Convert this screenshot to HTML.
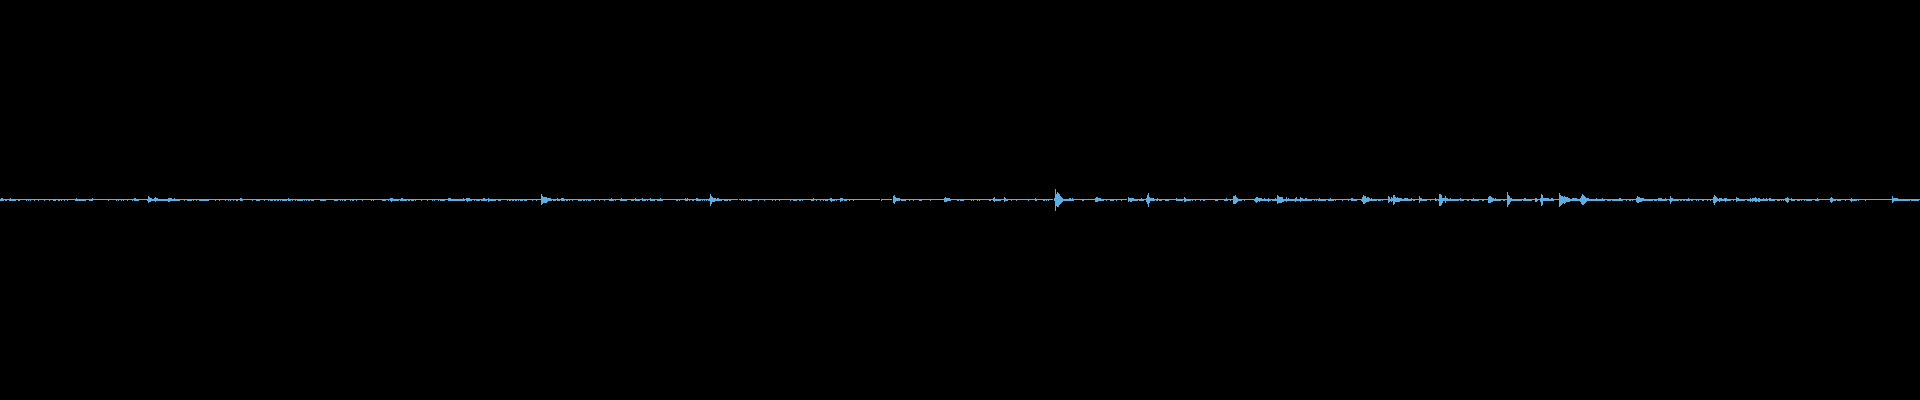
<!DOCTYPE html>
<html><head><meta charset="utf-8"><style>
html,body{margin:0;padding:0;background:#000;width:1920px;height:400px;overflow:hidden}
svg{display:block}
</style></head><body>
<svg width="1920" height="400" viewBox="0 0 1920 400" shape-rendering="crispEdges"><rect width="1920" height="400" fill="#000"/><g fill="#5eaee4"><rect x="0" y="199" width="1" height="2"/><rect x="1" y="198" width="2" height="3"/><rect x="3" y="199" width="1" height="2"/><rect x="4" y="199" width="1" height="1"/><rect x="5" y="199" width="2" height="2"/><rect x="7" y="199" width="2" height="1"/><rect x="9" y="199" width="1" height="2"/><rect x="10" y="198" width="1" height="3"/><rect x="11" y="199" width="5" height="2"/><rect x="16" y="199" width="2" height="1"/><rect x="18" y="199" width="2" height="2"/><rect x="20" y="199" width="6" height="1"/><rect x="26" y="199" width="1" height="2"/><rect x="27" y="199" width="1" height="1"/><rect x="28" y="199" width="1" height="2"/><rect x="29" y="199" width="1" height="1"/><rect x="30" y="199" width="1" height="2"/><rect x="31" y="199" width="3" height="1"/><rect x="34" y="199" width="1" height="2"/><rect x="35" y="199" width="3" height="1"/><rect x="38" y="199" width="1" height="2"/><rect x="39" y="199" width="5" height="1"/><rect x="44" y="199" width="1" height="2"/><rect x="45" y="199" width="4" height="1"/><rect x="49" y="199" width="1" height="2"/><rect x="50" y="199" width="3" height="1"/><rect x="53" y="199" width="3" height="2"/><rect x="56" y="199" width="2" height="1"/><rect x="58" y="199" width="2" height="2"/><rect x="60" y="199" width="1" height="1"/><rect x="61" y="199" width="1" height="2"/><rect x="62" y="199" width="2" height="1"/><rect x="64" y="199" width="1" height="2"/><rect x="65" y="199" width="2" height="1"/><rect x="67" y="199" width="1" height="2"/><rect x="68" y="199" width="7" height="1"/><rect x="75" y="199" width="1" height="2"/><rect x="76" y="198" width="1" height="3"/><rect x="77" y="199" width="9" height="2"/><rect x="86" y="199" width="3" height="1"/><rect x="89" y="199" width="3" height="2"/><rect x="92" y="198" width="1" height="3"/><rect x="93" y="199" width="15" height="1"/><rect x="108" y="199" width="1" height="2"/><rect x="109" y="199" width="7" height="1"/><rect x="116" y="199" width="1" height="2"/><rect x="117" y="199" width="1" height="1"/><rect x="118" y="199" width="1" height="2"/><rect x="119" y="199" width="2" height="1"/><rect x="121" y="199" width="1" height="2"/><rect x="122" y="199" width="1" height="1"/><rect x="123" y="199" width="1" height="2"/><rect x="124" y="199" width="3" height="1"/><rect x="127" y="199" width="1" height="2"/><rect x="128" y="199" width="4" height="1"/><rect x="132" y="199" width="1" height="2"/><rect x="133" y="199" width="1" height="1"/><rect x="134" y="198" width="2" height="3"/><rect x="136" y="199" width="3" height="2"/><rect x="139" y="199" width="8" height="1"/><rect x="147" y="199" width="1" height="2"/><rect x="148" y="196" width="1" height="7"/><rect x="149" y="197" width="1" height="5"/><rect x="150" y="198" width="1" height="4"/><rect x="151" y="198" width="1" height="3"/><rect x="152" y="199" width="2" height="2"/><rect x="154" y="198" width="1" height="3"/><rect x="155" y="197" width="1" height="5"/><rect x="156" y="198" width="2" height="3"/><rect x="158" y="199" width="10" height="2"/><rect x="168" y="198" width="2" height="4"/><rect x="170" y="198" width="2" height="3"/><rect x="172" y="199" width="2" height="2"/><rect x="174" y="198" width="1" height="3"/><rect x="175" y="199" width="5" height="2"/><rect x="180" y="199" width="4" height="1"/><rect x="184" y="199" width="1" height="2"/><rect x="185" y="199" width="2" height="1"/><rect x="187" y="199" width="5" height="2"/><rect x="192" y="199" width="1" height="1"/><rect x="193" y="199" width="1" height="2"/><rect x="194" y="199" width="2" height="1"/><rect x="196" y="199" width="1" height="2"/><rect x="197" y="199" width="2" height="1"/><rect x="199" y="199" width="10" height="2"/><rect x="209" y="199" width="6" height="1"/><rect x="215" y="199" width="1" height="2"/><rect x="216" y="199" width="3" height="1"/><rect x="219" y="199" width="1" height="2"/><rect x="220" y="199" width="5" height="1"/><rect x="225" y="199" width="1" height="2"/><rect x="226" y="199" width="2" height="1"/><rect x="228" y="199" width="1" height="2"/><rect x="229" y="199" width="1" height="1"/><rect x="230" y="199" width="1" height="2"/><rect x="231" y="199" width="2" height="1"/><rect x="233" y="199" width="1" height="2"/><rect x="234" y="199" width="2" height="1"/><rect x="236" y="199" width="2" height="2"/><rect x="238" y="199" width="2" height="1"/><rect x="240" y="198" width="2" height="3"/><rect x="242" y="199" width="1" height="2"/><rect x="243" y="199" width="9" height="1"/><rect x="252" y="199" width="1" height="2"/><rect x="253" y="199" width="3" height="1"/><rect x="256" y="199" width="4" height="2"/><rect x="260" y="199" width="4" height="1"/><rect x="264" y="199" width="1" height="2"/><rect x="265" y="199" width="3" height="1"/><rect x="268" y="199" width="1" height="2"/><rect x="269" y="199" width="1" height="1"/><rect x="270" y="199" width="3" height="2"/><rect x="273" y="199" width="1" height="1"/><rect x="274" y="199" width="2" height="2"/><rect x="276" y="199" width="1" height="1"/><rect x="277" y="199" width="2" height="2"/><rect x="279" y="199" width="1" height="1"/><rect x="280" y="199" width="1" height="2"/><rect x="281" y="199" width="1" height="1"/><rect x="282" y="199" width="5" height="2"/><rect x="287" y="199" width="1" height="1"/><rect x="288" y="198" width="1" height="3"/><rect x="289" y="199" width="2" height="2"/><rect x="291" y="199" width="1" height="1"/><rect x="292" y="199" width="1" height="2"/><rect x="293" y="199" width="2" height="1"/><rect x="295" y="199" width="1" height="2"/><rect x="296" y="199" width="1" height="1"/><rect x="297" y="199" width="6" height="2"/><rect x="303" y="199" width="1" height="1"/><rect x="304" y="199" width="1" height="2"/><rect x="305" y="199" width="1" height="1"/><rect x="306" y="199" width="1" height="2"/><rect x="307" y="199" width="1" height="1"/><rect x="308" y="199" width="2" height="2"/><rect x="310" y="199" width="1" height="1"/><rect x="311" y="199" width="3" height="2"/><rect x="314" y="199" width="6" height="1"/><rect x="320" y="199" width="6" height="2"/><rect x="326" y="199" width="8" height="1"/><rect x="334" y="199" width="4" height="2"/><rect x="338" y="199" width="2" height="1"/><rect x="340" y="199" width="1" height="2"/><rect x="341" y="199" width="1" height="1"/><rect x="342" y="199" width="1" height="2"/><rect x="343" y="199" width="1" height="1"/><rect x="344" y="199" width="2" height="2"/><rect x="346" y="199" width="4" height="1"/><rect x="350" y="199" width="1" height="2"/><rect x="351" y="199" width="1" height="1"/><rect x="352" y="199" width="2" height="2"/><rect x="354" y="199" width="2" height="1"/><rect x="356" y="199" width="1" height="2"/><rect x="357" y="199" width="5" height="1"/><rect x="362" y="199" width="1" height="2"/><rect x="363" y="199" width="8" height="1"/><rect x="371" y="199" width="1" height="2"/><rect x="372" y="199" width="1" height="1"/><rect x="373" y="199" width="1" height="2"/><rect x="374" y="199" width="8" height="1"/><rect x="382" y="199" width="4" height="2"/><rect x="386" y="199" width="2" height="1"/><rect x="388" y="199" width="1" height="2"/><rect x="389" y="199" width="1" height="1"/><rect x="390" y="198" width="1" height="3"/><rect x="391" y="198" width="1" height="4"/><rect x="392" y="198" width="1" height="3"/><rect x="393" y="199" width="6" height="2"/><rect x="399" y="199" width="1" height="1"/><rect x="400" y="199" width="1" height="2"/><rect x="401" y="198" width="2" height="3"/><rect x="403" y="199" width="4" height="2"/><rect x="407" y="199" width="1" height="1"/><rect x="408" y="199" width="2" height="2"/><rect x="410" y="199" width="1" height="1"/><rect x="411" y="199" width="3" height="2"/><rect x="414" y="199" width="1" height="1"/><rect x="415" y="199" width="1" height="2"/><rect x="416" y="199" width="5" height="1"/><rect x="421" y="199" width="1" height="2"/><rect x="422" y="199" width="5" height="1"/><rect x="427" y="199" width="1" height="2"/><rect x="428" y="199" width="4" height="1"/><rect x="432" y="199" width="1" height="2"/><rect x="433" y="199" width="1" height="1"/><rect x="434" y="199" width="1" height="2"/><rect x="435" y="199" width="3" height="1"/><rect x="438" y="199" width="1" height="2"/><rect x="439" y="199" width="1" height="1"/><rect x="440" y="199" width="5" height="2"/><rect x="445" y="199" width="3" height="1"/><rect x="448" y="198" width="3" height="3"/><rect x="451" y="199" width="12" height="2"/><rect x="463" y="198" width="1" height="3"/><rect x="464" y="199" width="1" height="2"/><rect x="465" y="199" width="1" height="1"/><rect x="466" y="198" width="1" height="3"/><rect x="467" y="198" width="1" height="4"/><rect x="468" y="198" width="2" height="3"/><rect x="470" y="199" width="2" height="2"/><rect x="472" y="199" width="2" height="1"/><rect x="474" y="199" width="1" height="2"/><rect x="475" y="199" width="1" height="1"/><rect x="476" y="199" width="4" height="2"/><rect x="480" y="199" width="1" height="1"/><rect x="481" y="199" width="2" height="2"/><rect x="483" y="198" width="2" height="3"/><rect x="485" y="199" width="2" height="2"/><rect x="487" y="199" width="1" height="1"/><rect x="488" y="198" width="1" height="4"/><rect x="489" y="199" width="7" height="2"/><rect x="496" y="199" width="2" height="1"/><rect x="498" y="199" width="3" height="2"/><rect x="501" y="199" width="6" height="1"/><rect x="507" y="199" width="1" height="2"/><rect x="508" y="199" width="1" height="1"/><rect x="509" y="199" width="2" height="2"/><rect x="511" y="199" width="1" height="1"/><rect x="512" y="199" width="2" height="2"/><rect x="514" y="199" width="1" height="1"/><rect x="515" y="199" width="2" height="2"/><rect x="517" y="199" width="1" height="1"/><rect x="518" y="199" width="1" height="2"/><rect x="519" y="199" width="1" height="1"/><rect x="520" y="199" width="3" height="2"/><rect x="523" y="199" width="1" height="1"/><rect x="524" y="199" width="3" height="2"/><rect x="527" y="199" width="5" height="1"/><rect x="532" y="199" width="1" height="2"/><rect x="533" y="199" width="3" height="1"/><rect x="536" y="199" width="1" height="2"/><rect x="537" y="199" width="4" height="1"/><rect x="541" y="194" width="1" height="11"/><rect x="542" y="196" width="1" height="8"/><rect x="543" y="197" width="4" height="6"/><rect x="547" y="198" width="1" height="4"/><rect x="548" y="198" width="3" height="3"/><rect x="551" y="199" width="1" height="2"/><rect x="552" y="199" width="1" height="1"/><rect x="553" y="199" width="3" height="2"/><rect x="556" y="199" width="1" height="1"/><rect x="557" y="198" width="1" height="3"/><rect x="558" y="199" width="2" height="2"/><rect x="560" y="199" width="1" height="1"/><rect x="561" y="198" width="3" height="3"/><rect x="564" y="199" width="1" height="2"/><rect x="565" y="199" width="1" height="1"/><rect x="566" y="199" width="2" height="2"/><rect x="568" y="199" width="1" height="1"/><rect x="569" y="199" width="1" height="2"/><rect x="570" y="199" width="2" height="1"/><rect x="572" y="199" width="1" height="2"/><rect x="573" y="199" width="5" height="1"/><rect x="578" y="199" width="4" height="2"/><rect x="582" y="199" width="1" height="1"/><rect x="583" y="199" width="2" height="2"/><rect x="585" y="199" width="1" height="1"/><rect x="586" y="199" width="1" height="2"/><rect x="587" y="199" width="1" height="1"/><rect x="588" y="199" width="3" height="2"/><rect x="591" y="199" width="3" height="1"/><rect x="594" y="199" width="1" height="2"/><rect x="595" y="199" width="4" height="1"/><rect x="599" y="199" width="1" height="2"/><rect x="600" y="199" width="4" height="1"/><rect x="604" y="199" width="1" height="2"/><rect x="605" y="199" width="4" height="1"/><rect x="609" y="199" width="2" height="2"/><rect x="611" y="198" width="1" height="3"/><rect x="612" y="199" width="2" height="2"/><rect x="614" y="199" width="1" height="1"/><rect x="615" y="199" width="1" height="2"/><rect x="616" y="199" width="4" height="1"/><rect x="620" y="199" width="1" height="2"/><rect x="621" y="198" width="1" height="3"/><rect x="622" y="199" width="5" height="2"/><rect x="627" y="199" width="4" height="1"/><rect x="631" y="199" width="3" height="2"/><rect x="634" y="199" width="1" height="1"/><rect x="635" y="198" width="1" height="3"/><rect x="636" y="199" width="4" height="2"/><rect x="640" y="199" width="2" height="1"/><rect x="642" y="198" width="1" height="3"/><rect x="643" y="199" width="3" height="2"/><rect x="646" y="199" width="1" height="1"/><rect x="647" y="199" width="1" height="2"/><rect x="648" y="199" width="2" height="1"/><rect x="650" y="198" width="1" height="3"/><rect x="651" y="199" width="4" height="2"/><rect x="655" y="199" width="2" height="1"/><rect x="657" y="199" width="3" height="2"/><rect x="660" y="198" width="1" height="3"/><rect x="661" y="199" width="2" height="2"/><rect x="663" y="199" width="13" height="1"/><rect x="676" y="199" width="2" height="2"/><rect x="678" y="199" width="1" height="1"/><rect x="679" y="199" width="1" height="2"/><rect x="680" y="199" width="5" height="1"/><rect x="685" y="198" width="1" height="3"/><rect x="686" y="199" width="1" height="2"/><rect x="687" y="198" width="1" height="3"/><rect x="688" y="199" width="1" height="1"/><rect x="689" y="199" width="1" height="2"/><rect x="690" y="199" width="2" height="1"/><rect x="692" y="199" width="2" height="2"/><rect x="694" y="199" width="2" height="1"/><rect x="696" y="198" width="2" height="3"/><rect x="698" y="199" width="3" height="2"/><rect x="701" y="199" width="1" height="1"/><rect x="702" y="199" width="1" height="2"/><rect x="703" y="199" width="1" height="1"/><rect x="704" y="199" width="1" height="2"/><rect x="705" y="199" width="1" height="1"/><rect x="706" y="199" width="1" height="2"/><rect x="707" y="199" width="1" height="1"/><rect x="708" y="199" width="1" height="2"/><rect x="709" y="198" width="1" height="3"/><rect x="710" y="194" width="1" height="12"/><rect x="711" y="196" width="1" height="8"/><rect x="712" y="197" width="1" height="5"/><rect x="713" y="198" width="2" height="4"/><rect x="715" y="198" width="1" height="3"/><rect x="716" y="199" width="1" height="2"/><rect x="717" y="198" width="2" height="3"/><rect x="719" y="199" width="3" height="2"/><rect x="722" y="199" width="2" height="1"/><rect x="724" y="199" width="4" height="2"/><rect x="728" y="199" width="1" height="1"/><rect x="729" y="199" width="2" height="2"/><rect x="731" y="199" width="7" height="1"/><rect x="739" y="199" width="2" height="1"/><rect x="741" y="199" width="1" height="2"/><rect x="742" y="199" width="1" height="1"/><rect x="743" y="199" width="1" height="2"/><rect x="744" y="199" width="1" height="1"/><rect x="745" y="199" width="1" height="2"/><rect x="746" y="199" width="2" height="1"/><rect x="748" y="199" width="4" height="2"/><rect x="752" y="199" width="6" height="1"/><rect x="758" y="199" width="1" height="2"/><rect x="759" y="199" width="5" height="1"/><rect x="764" y="199" width="1" height="2"/><rect x="765" y="199" width="7" height="1"/><rect x="772" y="199" width="1" height="2"/><rect x="773" y="199" width="2" height="1"/><rect x="775" y="199" width="1" height="2"/><rect x="776" y="199" width="3" height="1"/><rect x="779" y="199" width="1" height="2"/><rect x="780" y="199" width="10" height="1"/><rect x="790" y="199" width="1" height="2"/><rect x="791" y="199" width="2" height="1"/><rect x="793" y="199" width="4" height="2"/><rect x="797" y="199" width="2" height="1"/><rect x="799" y="199" width="2" height="2"/><rect x="801" y="199" width="1" height="1"/><rect x="802" y="199" width="1" height="2"/><rect x="803" y="199" width="8" height="1"/><rect x="811" y="199" width="2" height="2"/><rect x="813" y="198" width="1" height="3"/><rect x="814" y="199" width="2" height="1"/><rect x="816" y="199" width="1" height="2"/><rect x="817" y="199" width="3" height="1"/><rect x="820" y="199" width="1" height="2"/><rect x="821" y="199" width="2" height="1"/><rect x="823" y="199" width="1" height="2"/><rect x="824" y="199" width="1" height="1"/><rect x="825" y="199" width="3" height="2"/><rect x="828" y="199" width="2" height="1"/><rect x="830" y="198" width="1" height="3"/><rect x="831" y="198" width="1" height="4"/><rect x="832" y="199" width="3" height="2"/><rect x="835" y="199" width="1" height="1"/><rect x="836" y="199" width="1" height="2"/><rect x="837" y="199" width="3" height="1"/><rect x="840" y="198" width="1" height="4"/><rect x="841" y="198" width="2" height="3"/><rect x="843" y="199" width="1" height="1"/><rect x="844" y="199" width="3" height="2"/><rect x="847" y="199" width="2" height="1"/><rect x="849" y="199" width="1" height="2"/><rect x="850" y="199" width="3" height="1"/><rect x="853" y="199" width="1" height="2"/><rect x="854" y="199" width="26" height="1"/><rect x="881" y="199" width="1" height="2"/><rect x="882" y="199" width="10" height="1"/><rect x="893" y="196" width="1" height="7"/><rect x="894" y="195" width="1" height="9"/><rect x="895" y="197" width="1" height="5"/><rect x="896" y="198" width="4" height="3"/><rect x="900" y="199" width="1" height="1"/><rect x="901" y="199" width="5" height="2"/><rect x="906" y="199" width="3" height="1"/><rect x="909" y="199" width="1" height="2"/><rect x="910" y="199" width="3" height="1"/><rect x="913" y="199" width="1" height="2"/><rect x="914" y="199" width="5" height="1"/><rect x="919" y="199" width="3" height="2"/><rect x="922" y="199" width="8" height="1"/><rect x="930" y="199" width="1" height="2"/><rect x="931" y="199" width="13" height="1"/><rect x="944" y="198" width="1" height="4"/><rect x="945" y="197" width="1" height="5"/><rect x="946" y="198" width="1" height="4"/><rect x="947" y="198" width="3" height="3"/><rect x="950" y="199" width="1" height="2"/><rect x="951" y="199" width="6" height="1"/><rect x="957" y="199" width="2" height="2"/><rect x="959" y="199" width="1" height="1"/><rect x="960" y="199" width="4" height="2"/><rect x="964" y="199" width="7" height="1"/><rect x="971" y="199" width="1" height="2"/><rect x="972" y="199" width="1" height="1"/><rect x="973" y="199" width="1" height="2"/><rect x="974" y="199" width="3" height="1"/><rect x="977" y="199" width="1" height="2"/><rect x="978" y="199" width="1" height="1"/><rect x="979" y="199" width="1" height="2"/><rect x="980" y="199" width="9" height="1"/><rect x="989" y="199" width="2" height="2"/><rect x="991" y="199" width="2" height="1"/><rect x="993" y="198" width="1" height="3"/><rect x="994" y="197" width="1" height="5"/><rect x="995" y="199" width="6" height="2"/><rect x="1001" y="199" width="3" height="1"/><rect x="1004" y="197" width="1" height="5"/><rect x="1005" y="198" width="1" height="3"/><rect x="1006" y="199" width="2" height="2"/><rect x="1008" y="199" width="3" height="1"/><rect x="1011" y="199" width="1" height="2"/><rect x="1012" y="199" width="4" height="1"/><rect x="1016" y="199" width="1" height="2"/><rect x="1017" y="199" width="11" height="1"/><rect x="1028" y="199" width="1" height="2"/><rect x="1029" y="199" width="6" height="1"/><rect x="1035" y="198" width="1" height="3"/><rect x="1036" y="199" width="1" height="2"/><rect x="1037" y="199" width="6" height="1"/><rect x="1043" y="199" width="2" height="2"/><rect x="1045" y="199" width="1" height="1"/><rect x="1046" y="199" width="1" height="2"/><rect x="1047" y="199" width="1" height="1"/><rect x="1048" y="199" width="1" height="2"/><rect x="1049" y="199" width="4" height="1"/><rect x="1054" y="198" width="1" height="3"/><rect x="1055" y="189" width="1" height="22"/><rect x="1056" y="194" width="1" height="12"/><rect x="1057" y="192" width="1" height="15"/><rect x="1058" y="193" width="1" height="14"/><rect x="1059" y="194" width="1" height="11"/><rect x="1060" y="196" width="1" height="8"/><rect x="1061" y="197" width="1" height="6"/><rect x="1062" y="198" width="1" height="4"/><rect x="1063" y="199" width="6" height="2"/><rect x="1069" y="198" width="2" height="3"/><rect x="1071" y="199" width="1" height="2"/><rect x="1072" y="198" width="1" height="3"/><rect x="1073" y="199" width="1" height="2"/><rect x="1074" y="199" width="8" height="1"/><rect x="1082" y="199" width="2" height="2"/><rect x="1084" y="199" width="11" height="1"/><rect x="1095" y="198" width="1" height="4"/><rect x="1096" y="197" width="2" height="5"/><rect x="1098" y="198" width="3" height="3"/><rect x="1101" y="199" width="3" height="2"/><rect x="1104" y="199" width="2" height="1"/><rect x="1106" y="199" width="1" height="2"/><rect x="1107" y="199" width="3" height="1"/><rect x="1110" y="199" width="4" height="2"/><rect x="1114" y="199" width="2" height="1"/><rect x="1116" y="199" width="1" height="2"/><rect x="1117" y="199" width="4" height="1"/><rect x="1121" y="199" width="1" height="2"/><rect x="1122" y="199" width="5" height="1"/><rect x="1128" y="197" width="1" height="5"/><rect x="1129" y="198" width="1" height="3"/><rect x="1130" y="198" width="2" height="4"/><rect x="1132" y="198" width="2" height="3"/><rect x="1134" y="199" width="4" height="2"/><rect x="1138" y="199" width="1" height="1"/><rect x="1139" y="199" width="2" height="2"/><rect x="1141" y="198" width="1" height="3"/><rect x="1142" y="199" width="2" height="2"/><rect x="1144" y="199" width="2" height="1"/><rect x="1146" y="198" width="1" height="4"/><rect x="1147" y="195" width="1" height="9"/><rect x="1148" y="193" width="1" height="14"/><rect x="1149" y="197" width="1" height="6"/><rect x="1150" y="198" width="4" height="3"/><rect x="1154" y="199" width="1" height="2"/><rect x="1155" y="199" width="1" height="1"/><rect x="1156" y="199" width="1" height="2"/><rect x="1157" y="198" width="1" height="3"/><rect x="1158" y="199" width="1" height="1"/><rect x="1159" y="199" width="3" height="2"/><rect x="1162" y="199" width="3" height="1"/><rect x="1165" y="199" width="4" height="2"/><rect x="1169" y="199" width="7" height="1"/><rect x="1176" y="198" width="1" height="3"/><rect x="1177" y="199" width="6" height="2"/><rect x="1183" y="199" width="1" height="1"/><rect x="1184" y="197" width="1" height="5"/><rect x="1185" y="198" width="1" height="4"/><rect x="1186" y="199" width="5" height="2"/><rect x="1191" y="199" width="1" height="1"/><rect x="1192" y="199" width="1" height="2"/><rect x="1193" y="199" width="2" height="1"/><rect x="1195" y="199" width="1" height="2"/><rect x="1196" y="199" width="4" height="1"/><rect x="1200" y="199" width="1" height="2"/><rect x="1201" y="199" width="2" height="1"/><rect x="1203" y="199" width="2" height="2"/><rect x="1205" y="199" width="10" height="1"/><rect x="1215" y="199" width="3" height="2"/><rect x="1218" y="199" width="6" height="1"/><rect x="1224" y="199" width="2" height="2"/><rect x="1226" y="198" width="1" height="3"/><rect x="1227" y="199" width="1" height="2"/><rect x="1228" y="199" width="2" height="1"/><rect x="1230" y="199" width="1" height="2"/><rect x="1231" y="199" width="2" height="1"/><rect x="1233" y="196" width="2" height="8"/><rect x="1235" y="195" width="1" height="9"/><rect x="1236" y="197" width="1" height="6"/><rect x="1237" y="198" width="1" height="4"/><rect x="1238" y="199" width="4" height="2"/><rect x="1242" y="199" width="2" height="1"/><rect x="1244" y="199" width="1" height="2"/><rect x="1245" y="199" width="9" height="1"/><rect x="1254" y="199" width="1" height="2"/><rect x="1255" y="198" width="1" height="4"/><rect x="1256" y="197" width="1" height="6"/><rect x="1257" y="197" width="1" height="5"/><rect x="1258" y="198" width="1" height="3"/><rect x="1259" y="198" width="1" height="4"/><rect x="1260" y="198" width="2" height="3"/><rect x="1262" y="199" width="2" height="2"/><rect x="1264" y="198" width="1" height="3"/><rect x="1265" y="199" width="3" height="2"/><rect x="1268" y="198" width="1" height="4"/><rect x="1269" y="199" width="2" height="2"/><rect x="1271" y="199" width="1" height="1"/><rect x="1272" y="199" width="3" height="2"/><rect x="1275" y="198" width="1" height="3"/><rect x="1276" y="199" width="1" height="2"/><rect x="1277" y="195" width="1" height="9"/><rect x="1278" y="196" width="1" height="7"/><rect x="1279" y="197" width="3" height="6"/><rect x="1282" y="197" width="1" height="5"/><rect x="1283" y="199" width="1" height="3"/><rect x="1284" y="199" width="2" height="2"/><rect x="1286" y="197" width="1" height="5"/><rect x="1287" y="199" width="1" height="2"/><rect x="1288" y="198" width="1" height="3"/><rect x="1289" y="199" width="6" height="2"/><rect x="1295" y="198" width="1" height="4"/><rect x="1296" y="197" width="1" height="4"/><rect x="1297" y="199" width="3" height="2"/><rect x="1300" y="197" width="1" height="5"/><rect x="1301" y="198" width="2" height="3"/><rect x="1303" y="199" width="2" height="2"/><rect x="1305" y="198" width="2" height="3"/><rect x="1307" y="199" width="5" height="2"/><rect x="1312" y="199" width="2" height="1"/><rect x="1314" y="199" width="1" height="2"/><rect x="1315" y="199" width="1" height="1"/><rect x="1316" y="199" width="1" height="2"/><rect x="1317" y="199" width="1" height="1"/><rect x="1318" y="199" width="1" height="2"/><rect x="1319" y="198" width="1" height="3"/><rect x="1320" y="199" width="6" height="2"/><rect x="1326" y="199" width="2" height="1"/><rect x="1328" y="199" width="2" height="2"/><rect x="1330" y="198" width="1" height="3"/><rect x="1331" y="199" width="3" height="2"/><rect x="1334" y="199" width="1" height="1"/><rect x="1335" y="199" width="1" height="2"/><rect x="1336" y="199" width="6" height="1"/><rect x="1342" y="199" width="1" height="2"/><rect x="1343" y="199" width="5" height="1"/><rect x="1348" y="199" width="1" height="2"/><rect x="1349" y="199" width="2" height="1"/><rect x="1351" y="198" width="2" height="3"/><rect x="1353" y="199" width="4" height="2"/><rect x="1357" y="199" width="4" height="1"/><rect x="1361" y="199" width="1" height="2"/><rect x="1362" y="197" width="1" height="5"/><rect x="1363" y="195" width="1" height="9"/><rect x="1364" y="196" width="1" height="8"/><rect x="1365" y="196" width="1" height="7"/><rect x="1366" y="198" width="1" height="4"/><rect x="1367" y="197" width="2" height="5"/><rect x="1369" y="198" width="1" height="3"/><rect x="1370" y="199" width="1" height="2"/><rect x="1371" y="198" width="1" height="3"/><rect x="1372" y="199" width="5" height="2"/><rect x="1377" y="199" width="1" height="1"/><rect x="1378" y="199" width="3" height="2"/><rect x="1381" y="199" width="1" height="1"/><rect x="1382" y="199" width="1" height="2"/><rect x="1383" y="199" width="5" height="1"/><rect x="1388" y="196" width="1" height="7"/><rect x="1389" y="197" width="1" height="5"/><rect x="1390" y="199" width="1" height="2"/><rect x="1391" y="197" width="1" height="5"/><rect x="1392" y="198" width="1" height="3"/><rect x="1393" y="195" width="1" height="10"/><rect x="1394" y="195" width="1" height="9"/><rect x="1395" y="197" width="1" height="5"/><rect x="1396" y="198" width="1" height="4"/><rect x="1397" y="197" width="1" height="5"/><rect x="1398" y="198" width="2" height="4"/><rect x="1400" y="198" width="2" height="3"/><rect x="1402" y="199" width="2" height="2"/><rect x="1404" y="198" width="4" height="3"/><rect x="1408" y="199" width="3" height="2"/><rect x="1411" y="198" width="1" height="3"/><rect x="1412" y="199" width="1" height="1"/><rect x="1413" y="199" width="2" height="2"/><rect x="1415" y="199" width="4" height="1"/><rect x="1419" y="196" width="1" height="7"/><rect x="1420" y="198" width="2" height="3"/><rect x="1422" y="199" width="5" height="2"/><rect x="1427" y="199" width="3" height="1"/><rect x="1430" y="199" width="1" height="2"/><rect x="1431" y="199" width="4" height="1"/><rect x="1435" y="198" width="1" height="3"/><rect x="1436" y="199" width="1" height="2"/><rect x="1437" y="199" width="1" height="1"/><rect x="1438" y="199" width="1" height="2"/><rect x="1439" y="194" width="2" height="12"/><rect x="1441" y="195" width="1" height="10"/><rect x="1442" y="198" width="1" height="5"/><rect x="1443" y="198" width="2" height="3"/><rect x="1445" y="196" width="1" height="7"/><rect x="1446" y="198" width="2" height="3"/><rect x="1448" y="199" width="2" height="2"/><rect x="1450" y="198" width="1" height="3"/><rect x="1451" y="199" width="8" height="2"/><rect x="1459" y="199" width="1" height="1"/><rect x="1460" y="198" width="1" height="3"/><rect x="1461" y="199" width="3" height="2"/><rect x="1464" y="199" width="3" height="1"/><rect x="1467" y="199" width="2" height="2"/><rect x="1469" y="199" width="2" height="1"/><rect x="1471" y="199" width="2" height="2"/><rect x="1473" y="198" width="1" height="3"/><rect x="1474" y="199" width="5" height="2"/><rect x="1479" y="199" width="3" height="1"/><rect x="1482" y="199" width="2" height="2"/><rect x="1484" y="199" width="4" height="1"/><rect x="1488" y="197" width="1" height="6"/><rect x="1489" y="196" width="2" height="7"/><rect x="1491" y="197" width="1" height="5"/><rect x="1492" y="198" width="1" height="4"/><rect x="1493" y="198" width="1" height="3"/><rect x="1494" y="199" width="1" height="2"/><rect x="1495" y="198" width="1" height="3"/><rect x="1496" y="199" width="5" height="2"/><rect x="1501" y="199" width="2" height="1"/><rect x="1503" y="199" width="2" height="2"/><rect x="1505" y="199" width="2" height="1"/><rect x="1507" y="192" width="1" height="15"/><rect x="1508" y="195" width="1" height="10"/><rect x="1509" y="196" width="1" height="8"/><rect x="1510" y="198" width="1" height="4"/><rect x="1511" y="198" width="1" height="3"/><rect x="1512" y="199" width="10" height="2"/><rect x="1522" y="199" width="1" height="1"/><rect x="1523" y="199" width="1" height="2"/><rect x="1524" y="198" width="2" height="3"/><rect x="1526" y="199" width="6" height="2"/><rect x="1532" y="199" width="3" height="1"/><rect x="1535" y="198" width="2" height="4"/><rect x="1537" y="199" width="1" height="2"/><rect x="1538" y="199" width="2" height="1"/><rect x="1540" y="198" width="1" height="4"/><rect x="1541" y="194" width="1" height="12"/><rect x="1542" y="195" width="1" height="10"/><rect x="1543" y="198" width="6" height="3"/><rect x="1549" y="199" width="2" height="2"/><rect x="1551" y="198" width="2" height="3"/><rect x="1553" y="199" width="1" height="2"/><rect x="1554" y="199" width="5" height="1"/><rect x="1559" y="193" width="1" height="14"/><rect x="1560" y="195" width="1" height="11"/><rect x="1561" y="196" width="1" height="9"/><rect x="1562" y="196" width="1" height="8"/><rect x="1563" y="197" width="1" height="6"/><rect x="1564" y="196" width="1" height="8"/><rect x="1565" y="197" width="1" height="6"/><rect x="1566" y="197" width="2" height="5"/><rect x="1568" y="198" width="2" height="4"/><rect x="1570" y="199" width="2" height="2"/><rect x="1572" y="198" width="5" height="3"/><rect x="1577" y="199" width="3" height="2"/><rect x="1580" y="198" width="1" height="4"/><rect x="1581" y="196" width="1" height="8"/><rect x="1582" y="194" width="1" height="11"/><rect x="1583" y="195" width="1" height="10"/><rect x="1584" y="196" width="1" height="8"/><rect x="1585" y="197" width="1" height="6"/><rect x="1586" y="198" width="1" height="4"/><rect x="1587" y="198" width="2" height="3"/><rect x="1589" y="199" width="7" height="2"/><rect x="1596" y="198" width="1" height="3"/><rect x="1597" y="199" width="5" height="2"/><rect x="1602" y="198" width="1" height="3"/><rect x="1603" y="199" width="2" height="2"/><rect x="1605" y="199" width="2" height="1"/><rect x="1607" y="199" width="4" height="2"/><rect x="1611" y="199" width="1" height="1"/><rect x="1612" y="199" width="7" height="2"/><rect x="1619" y="198" width="2" height="3"/><rect x="1621" y="199" width="2" height="2"/><rect x="1623" y="199" width="3" height="1"/><rect x="1626" y="199" width="1" height="2"/><rect x="1627" y="199" width="2" height="1"/><rect x="1629" y="199" width="2" height="2"/><rect x="1631" y="199" width="1" height="1"/><rect x="1632" y="199" width="1" height="2"/><rect x="1633" y="199" width="3" height="1"/><rect x="1636" y="198" width="1" height="4"/><rect x="1637" y="196" width="1" height="7"/><rect x="1638" y="197" width="1" height="6"/><rect x="1639" y="197" width="1" height="5"/><rect x="1640" y="198" width="2" height="4"/><rect x="1642" y="198" width="2" height="3"/><rect x="1644" y="199" width="9" height="2"/><rect x="1653" y="199" width="1" height="1"/><rect x="1654" y="199" width="3" height="2"/><rect x="1657" y="199" width="1" height="1"/><rect x="1658" y="198" width="4" height="3"/><rect x="1662" y="199" width="3" height="2"/><rect x="1665" y="198" width="1" height="3"/><rect x="1666" y="199" width="1" height="2"/><rect x="1667" y="199" width="2" height="1"/><rect x="1669" y="199" width="1" height="2"/><rect x="1670" y="196" width="1" height="8"/><rect x="1671" y="198" width="1" height="4"/><rect x="1672" y="198" width="1" height="3"/><rect x="1673" y="199" width="6" height="2"/><rect x="1679" y="199" width="1" height="1"/><rect x="1680" y="199" width="2" height="2"/><rect x="1682" y="199" width="1" height="1"/><rect x="1683" y="199" width="2" height="2"/><rect x="1685" y="199" width="1" height="1"/><rect x="1686" y="199" width="2" height="2"/><rect x="1688" y="198" width="1" height="3"/><rect x="1689" y="199" width="1" height="2"/><rect x="1690" y="199" width="1" height="1"/><rect x="1691" y="199" width="2" height="2"/><rect x="1693" y="199" width="3" height="1"/><rect x="1696" y="199" width="1" height="2"/><rect x="1697" y="199" width="1" height="1"/><rect x="1698" y="199" width="1" height="2"/><rect x="1699" y="199" width="3" height="1"/><rect x="1702" y="199" width="2" height="2"/><rect x="1704" y="199" width="3" height="1"/><rect x="1707" y="199" width="1" height="2"/><rect x="1708" y="199" width="2" height="1"/><rect x="1710" y="199" width="1" height="2"/><rect x="1711" y="199" width="2" height="1"/><rect x="1713" y="197" width="1" height="6"/><rect x="1714" y="195" width="1" height="10"/><rect x="1715" y="196" width="1" height="7"/><rect x="1716" y="197" width="1" height="5"/><rect x="1717" y="198" width="1" height="3"/><rect x="1718" y="199" width="1" height="2"/><rect x="1719" y="198" width="1" height="4"/><rect x="1720" y="198" width="2" height="3"/><rect x="1722" y="199" width="2" height="2"/><rect x="1724" y="198" width="1" height="3"/><rect x="1725" y="198" width="1" height="4"/><rect x="1726" y="198" width="1" height="3"/><rect x="1727" y="199" width="4" height="2"/><rect x="1731" y="199" width="2" height="1"/><rect x="1733" y="199" width="1" height="2"/><rect x="1734" y="199" width="2" height="1"/><rect x="1736" y="197" width="1" height="5"/><rect x="1737" y="198" width="2" height="3"/><rect x="1739" y="199" width="6" height="2"/><rect x="1745" y="199" width="2" height="1"/><rect x="1747" y="199" width="3" height="2"/><rect x="1750" y="198" width="1" height="4"/><rect x="1751" y="199" width="1" height="2"/><rect x="1752" y="198" width="1" height="4"/><rect x="1753" y="198" width="2" height="3"/><rect x="1755" y="197" width="1" height="5"/><rect x="1756" y="198" width="1" height="4"/><rect x="1757" y="199" width="1" height="2"/><rect x="1758" y="198" width="2" height="4"/><rect x="1760" y="199" width="3" height="2"/><rect x="1763" y="198" width="1" height="3"/><rect x="1764" y="199" width="2" height="2"/><rect x="1766" y="198" width="1" height="3"/><rect x="1767" y="199" width="1" height="2"/><rect x="1768" y="199" width="1" height="1"/><rect x="1769" y="198" width="2" height="3"/><rect x="1771" y="199" width="4" height="2"/><rect x="1775" y="199" width="2" height="1"/><rect x="1777" y="199" width="3" height="2"/><rect x="1780" y="199" width="1" height="1"/><rect x="1781" y="199" width="1" height="2"/><rect x="1782" y="199" width="1" height="1"/><rect x="1783" y="199" width="1" height="2"/><rect x="1784" y="199" width="1" height="1"/><rect x="1785" y="198" width="1" height="3"/><rect x="1786" y="198" width="1" height="4"/><rect x="1787" y="197" width="1" height="6"/><rect x="1788" y="198" width="1" height="4"/><rect x="1789" y="199" width="2" height="1"/><rect x="1791" y="198" width="1" height="3"/><rect x="1792" y="199" width="3" height="2"/><rect x="1795" y="199" width="2" height="1"/><rect x="1797" y="199" width="3" height="2"/><rect x="1800" y="199" width="1" height="1"/><rect x="1801" y="199" width="1" height="2"/><rect x="1802" y="199" width="2" height="1"/><rect x="1804" y="199" width="1" height="2"/><rect x="1805" y="199" width="1" height="1"/><rect x="1806" y="199" width="6" height="2"/><rect x="1812" y="199" width="3" height="1"/><rect x="1815" y="199" width="2" height="2"/><rect x="1817" y="198" width="1" height="3"/><rect x="1818" y="199" width="1" height="2"/><rect x="1819" y="199" width="11" height="1"/><rect x="1830" y="198" width="1" height="4"/><rect x="1831" y="197" width="1" height="6"/><rect x="1832" y="198" width="1" height="4"/><rect x="1833" y="199" width="3" height="2"/><rect x="1836" y="199" width="1" height="1"/><rect x="1837" y="199" width="4" height="2"/><rect x="1841" y="199" width="4" height="1"/><rect x="1845" y="199" width="1" height="2"/><rect x="1846" y="199" width="4" height="1"/><rect x="1850" y="199" width="1" height="2"/><rect x="1851" y="198" width="1" height="4"/><rect x="1852" y="199" width="5" height="2"/><rect x="1857" y="199" width="1" height="1"/><rect x="1858" y="199" width="1" height="2"/><rect x="1859" y="199" width="6" height="1"/><rect x="1865" y="199" width="1" height="2"/><rect x="1866" y="199" width="26" height="1"/><rect x="1892" y="196" width="1" height="7"/><rect x="1893" y="198" width="1" height="4"/><rect x="1894" y="198" width="4" height="3"/><rect x="1898" y="199" width="12" height="2"/><rect x="1910" y="199" width="1" height="1"/><rect x="1911" y="199" width="8" height="2"/><rect x="1919" y="199" width="1" height="1"/></g></svg>
</body></html>
